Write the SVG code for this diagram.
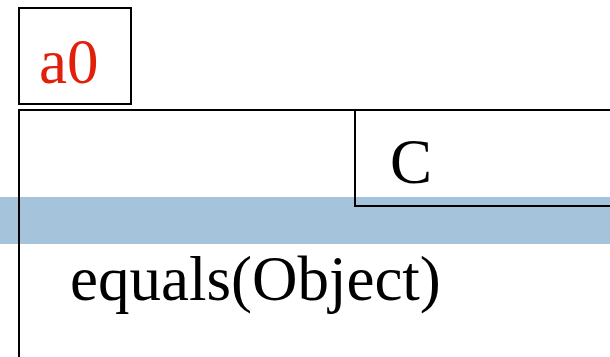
<svg xmlns="http://www.w3.org/2000/svg" width="610" height="357" viewBox="0 0 610 357">
<style>
.box{fill:none;stroke:#000;stroke-width:2}
.t{font-family:"Liberation Serif","Times New Roman",serif;font-size:63px;fill:#000}
.red{fill:#e0200a}
</style>
<rect x="0" y="197" width="610" height="47" fill="#a5c3db"/>
<g id="a0">
<rect class="box" x="19" y="8" width="112" height="96"/>
<text class="t red" x="39" y="83">a0</text>
</g>
<g id="object">
<rect class="box" x="19" y="110" width="620" height="280"/>
<text class="t" x="70" y="300">equals(Object)</text>
</g>
<g id="C">
<rect class="box" x="355" y="110" width="280" height="96"/>
<text class="t" x="390" y="183">C</text>
</g>
<g id="connectors"/>
</svg>
